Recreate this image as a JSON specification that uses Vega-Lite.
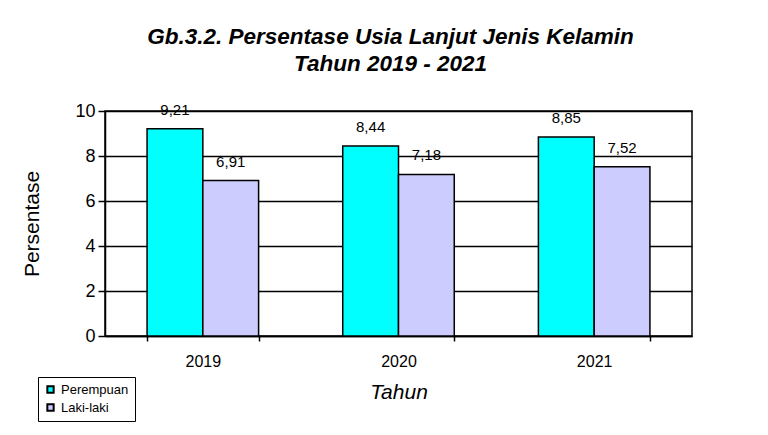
{
  "$schema": "https://vega.github.io/schema/vega-lite/v6.json",
  "autosize": "none",
  "width": 587,
  "height": 225,
  "padding": {"left": 105, "top": 111, "right": 76, "bottom": 99},
  "background": "white",
  "config": {
    "font": "Liberation Sans",
    "locale": {"number": {"decimal": ",", "thousands": ".", "grouping": [3], "currency": ["", ""]}},
    "view": {"stroke": "black", "strokeWidth": 1.5},
    "axis": {"domainColor": "black", "tickColor": "black", "labelColor": "black", "titleColor": "black", "gridColor": "black", "gridOpacity": 1}
  },
  "title": {
    "text": ["Gb.3.2. Persentase Usia  Lanjut Jenis Kelamin", "Tahun 2019 - 2021"],
    "font": "Liberation Sans",
    "fontSize": 22.5,
    "fontStyle": "italic",
    "fontWeight": "bold",
    "color": "black",
    "anchor": "middle",
    "dx": -8,
    "offset": 27,
    "lineHeight": 27
  },
  "data": {
    "values": [
      {"tahun": "2019", "jk": "Perempuan", "nilai": 9.21},
      {"tahun": "2019", "jk": "Laki-laki", "nilai": 6.91},
      {"tahun": "2020", "jk": "Perempuan", "nilai": 8.44},
      {"tahun": "2020", "jk": "Laki-laki", "nilai": 7.18},
      {"tahun": "2021", "jk": "Perempuan", "nilai": 8.85},
      {"tahun": "2021", "jk": "Laki-laki", "nilai": 7.52}
    ]
  },
  "encoding": {
    "x": {
      "field": "tahun", "type": "nominal",
      "scale": {"paddingInner": 0.43, "paddingOuter": 0.215},
      "axis": {
        "title": "Tahun", "labelAngle": 0, "labelFontSize": 16, "labelPadding": 12,
        "tickBand": "extent", "tickSize": 5, "tickWidth": 1.5, "domainWidth": 1.5,
        "titleFontSize": 21, "titleFontStyle": "italic", "titleFontWeight": "normal", "titlePadding": 12
      }
    },
    "xOffset": {"field": "jk", "type": "nominal", "sort": ["Perempuan", "Laki-laki"], "scale": {"paddingInner": 0, "paddingOuter": 0}},
    "y": {
      "field": "nilai", "type": "quantitative",
      "scale": {"domain": [0, 10], "nice": false},
      "axis": {
        "title": "Persentase", "values": [0, 2, 4, 6, 8, 10], "grid": true, "gridWidth": 1.5,
        "tickSize": 7, "tickWidth": 1.5, "domainWidth": 1.5, "labelFontSize": 18, "labelPadding": 3,
        "titleFontSize": 21, "titleFontWeight": "normal", "titlePadding": 32
      }
    }
  },
  "layer": [
    {
      "mark": {"type": "bar", "stroke": "black", "strokeWidth": 1.5},
      "encoding": {
        "color": {
          "field": "jk", "type": "nominal",
          "sort": ["Perempuan", "Laki-laki"],
          "scale": {"domain": ["Perempuan", "Laki-laki"], "range": ["#00FFFF", "#CCCCFF"]},
          "legend": {
            "title": null, "orient": "none", "legendX": -67, "legendY": 266,
            "symbolType": "square", "symbolSize": 40, "symbolStrokeColor": "black", "symbolStrokeWidth": 2,
            "labelFontSize": 13, "labelColor": "black", "rowPadding": 3, "labelOffset": 4,
            "strokeColor": "black", "padding": 6, "fillColor": "white"
          }
        }
      }
    },
    {
      "mark": {"type": "text", "baseline": "middle", "dy": -19, "fontSize": 15, "color": "black"},
      "encoding": {
        "text": {"field": "nilai", "type": "quantitative", "format": ".2f"}
      }
    }
  ]
}
